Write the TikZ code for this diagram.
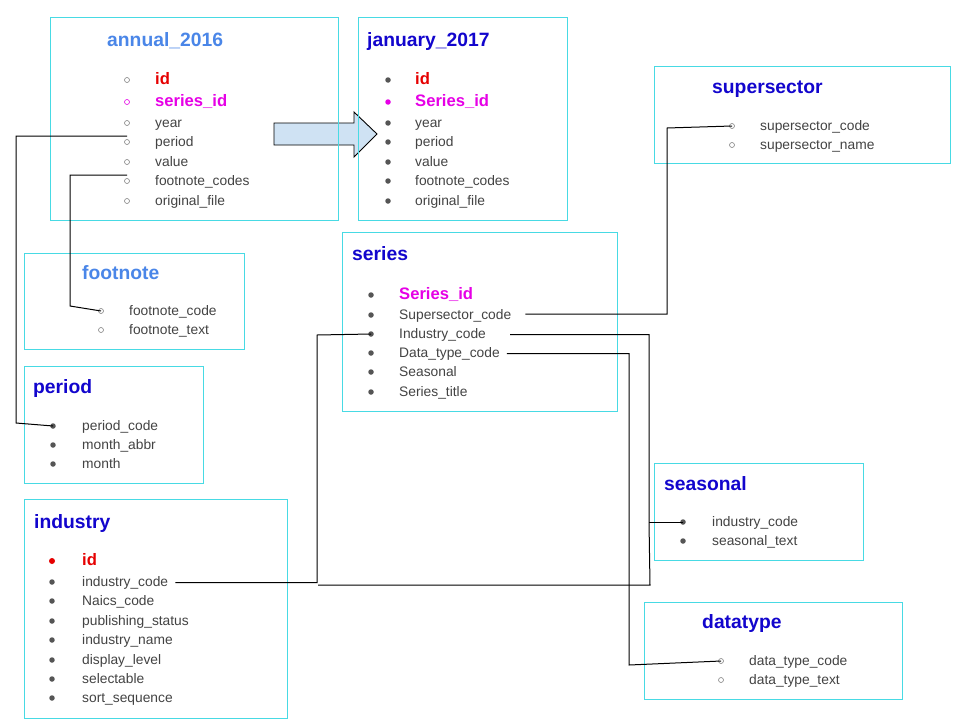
\documentclass[tikz,border=0pt]{standalone}
\usepackage{fontspec}
\setmainfont{Liberation Sans}
\definecolor{boxcyan}{RGB}{72,218,228}
\definecolor{ttlblue}{RGB}{18,5,205}
\definecolor{ttllight}{RGB}{74,134,232}
\definecolor{keyred}{RGB}{230,0,0}
\definecolor{keymag}{RGB}{230,0,230}
\definecolor{itemgray}{RGB}{67,67,67}
\definecolor{dotgray}{RGB}{85,85,85}
\definecolor{opengray}{RGB}{130,130,130}
\definecolor{arrowfill}{RGB}{207,226,243}
\newcommand\tabrow[7]{\node[#5] (#1b) at (#2,#4) {}; \node[#6,yshift=-1.5pt] (#1) at (#3,#4) {#7};}
\begin{document}
\begin{tikzpicture}[x=1pt,y=-1pt,
  tbl/.style={draw=boxcyan,line width=1pt,anchor=north west,inner sep=0pt},
  ttl/.style={font=\bfseries\fontsize{19.3}{22}\selectfont,text=ttlblue,anchor=base west,inner sep=0pt},
  ttllt/.style={ttl,text=ttllight},
  itm/.style={font=\fontsize{13.8}{16}\selectfont,text=itemgray,anchor=mid west,inner sep=0pt},
  keyr/.style={itm,font=\bfseries\fontsize{16.6}{19}\selectfont,text=keyred},
  keym/.style={itm,font=\bfseries\fontsize{16.6}{19}\selectfont,text=keymag},
  ob/.style={circle,draw=opengray,line width=0.6pt,inner sep=0pt,minimum size=5pt},
  obm/.style={ob,draw=keymag},
  fb/.style={circle,fill=dotgray,inner sep=0pt,minimum size=5.5pt},
  fbm/.style={fb,fill=keymag},
  fbr/.style={fb,fill=keyred,minimum size=6pt},
  conn/.style={draw=black,line width=1pt},
  bigarrow/.style={draw=black,line width=0.9pt,fill=arrowfill,line join=miter}
]
\useasboundingbox (0,0) rectangle (960,720);
\fill[white] (0,0) rectangle (960,720);

% block arrow
\draw[bigarrow] (274,123) -- (354,123) -- (354,112) -- (377,134) -- (354,157) -- (354,145) -- (274,145) -- cycle;

% boxes
\node[tbl,minimum width=288pt,minimum height=203pt] (annual) at (50,17) {};
\node[tbl,minimum width=209pt,minimum height=203pt] (january) at (358,17) {};
\node[tbl,minimum width=296pt,minimum height=97pt] (supersector) at (654,66) {};
\node[tbl,minimum width=220pt,minimum height=96pt] (footnote) at (24,253) {};
\node[tbl,minimum width=179pt,minimum height=117pt] (period) at (24,366) {};
\node[tbl,minimum width=275pt,minimum height=179pt] (series) at (342,232) {};
\node[tbl,minimum width=263pt,minimum height=219pt] (industry) at (24,499) {};
\node[tbl,minimum width=209pt,minimum height=97pt] (seasonal) at (654,463) {};
\node[tbl,minimum width=258pt,minimum height=97pt] (datatype) at (644,602) {};

% annual_2016
\node[ttllt] (anT) at (107,46) {annual\_2016};
\tabrow{an1}{127}{155}{80}{ob}{keyr}{id}
\tabrow{an2}{127}{155}{102}{obm}{keym}{series\_id}
\tabrow{an3}{127}{155}{123}{ob}{itm}{year}
\tabrow{an4}{127}{155}{142}{ob}{itm}{period}
\tabrow{an5}{127}{155}{162}{ob}{itm}{value}
\tabrow{an6}{127}{155}{181}{ob}{itm}{footnote\_codes}
\tabrow{an7}{127}{155}{201}{ob}{itm}{original\_file}

% january_2017
\node[ttl] (jaT) at (367,46) {january\_2017};
\tabrow{ja1}{388}{415}{80}{fb}{keyr}{id}
\tabrow{ja2}{388}{415}{102}{fbm}{keym}{Series\_id}
\tabrow{ja3}{388}{415}{123}{fb}{itm}{year}
\tabrow{ja4}{388}{415}{142}{fb}{itm}{period}
\tabrow{ja5}{388}{415}{162}{fb}{itm}{value}
\tabrow{ja6}{388}{415}{181}{fb}{itm}{footnote\_codes}
\tabrow{ja7}{388}{415}{201}{fb}{itm}{original\_file}

% supersector
\node[ttl] (ssT) at (712,93) {supersector};
\tabrow{ss1}{732}{760}{126}{ob}{itm}{supersector\_code}
\tabrow{ss2}{732}{760}{145}{ob}{itm}{supersector\_name}

% footnote
\node[ttllt] (fnT) at (82,279) {footnote};
\tabrow{fn1}{101}{129}{311}{ob}{itm}{footnote\_code}
\tabrow{fn2}{101}{129}{330}{ob}{itm}{footnote\_text}

% period
\node[ttl] (peT) at (33,393) {period};
\tabrow{pe1}{53}{82}{426}{fb}{itm}{period\_code}
\tabrow{pe2}{53}{82}{445}{fb}{itm}{month\_abbr}
\tabrow{pe3}{53}{82}{464}{fb}{itm}{month}

% series
\node[ttl] (seT) at (352,260) {series};
\tabrow{se1}{371}{399}{295}{fb}{keym}{Series\_id}
\tabrow{se2}{371}{399}{315}{fb}{itm}{Supersector\_code}
\tabrow{se3}{371}{399}{334}{fb}{itm}{Industry\_code}
\tabrow{se4}{371}{399}{353}{fb}{itm}{Data\_type\_code}
\tabrow{se5}{371}{399}{372}{fb}{itm}{Seasonal}
\tabrow{se6}{371}{399}{392}{fb}{itm}{Series\_title}

% industry
\node[ttl] (inT) at (34,528) {industry};
\tabrow{in1}{52}{82}{561}{fbr}{keyr}{id}
\tabrow{in2}{52}{82}{582}{fb}{itm}{industry\_code}
\tabrow{in3}{52}{82}{601}{fb}{itm}{Naics\_code}
\tabrow{in4}{52}{82}{621}{fb}{itm}{publishing\_status}
\tabrow{in5}{52}{82}{640}{fb}{itm}{industry\_name}
\tabrow{in6}{52}{82}{660}{fb}{itm}{display\_level}
\tabrow{in7}{52}{82}{679}{fb}{itm}{selectable}
\tabrow{in8}{52}{82}{698}{fb}{itm}{sort\_sequence}

% seasonal
\node[ttl] (saT) at (664,490) {seasonal};
\tabrow{sa1}{683}{712}{522}{fb}{itm}{industry\_code}
\tabrow{sa2}{683}{712}{541}{fb}{itm}{seasonal\_text}

% datatype
\node[ttl] (dtT) at (702,628) {datatype};
\tabrow{dt1}{721}{749}{661}{ob}{itm}{data\_type\_code}
\tabrow{dt2}{721}{749}{680}{ob}{itm}{data\_type\_text}

% connectors
\draw[conn] ([yshift=6pt]an4b.center) -| (16,423) -- (pe1b.center);
\draw[conn] ([yshift=6pt]an6b.center) -| (70,306) -- (fn1b.center);
\draw[conn] ([xshift=14pt,yshift=1.5pt]se2.east) -| (667,128) -- (ss1b.center);
\draw[conn] ([xshift=7pt,yshift=0pt]in2.east) -| (317,335) -- (se3b.center);
\coordinate (jn) at (649,522);
\draw[conn] ([xshift=24pt,yshift=0pt]se3.east) -| (jn) -- (650,585) -- (318,585);
\draw[conn] (jn) -- (sa1b.center);
\draw[conn] ([xshift=7pt,yshift=0pt]se4.east) -| (629,665) -- (dt1b.center);
\end{tikzpicture}
\end{document}
